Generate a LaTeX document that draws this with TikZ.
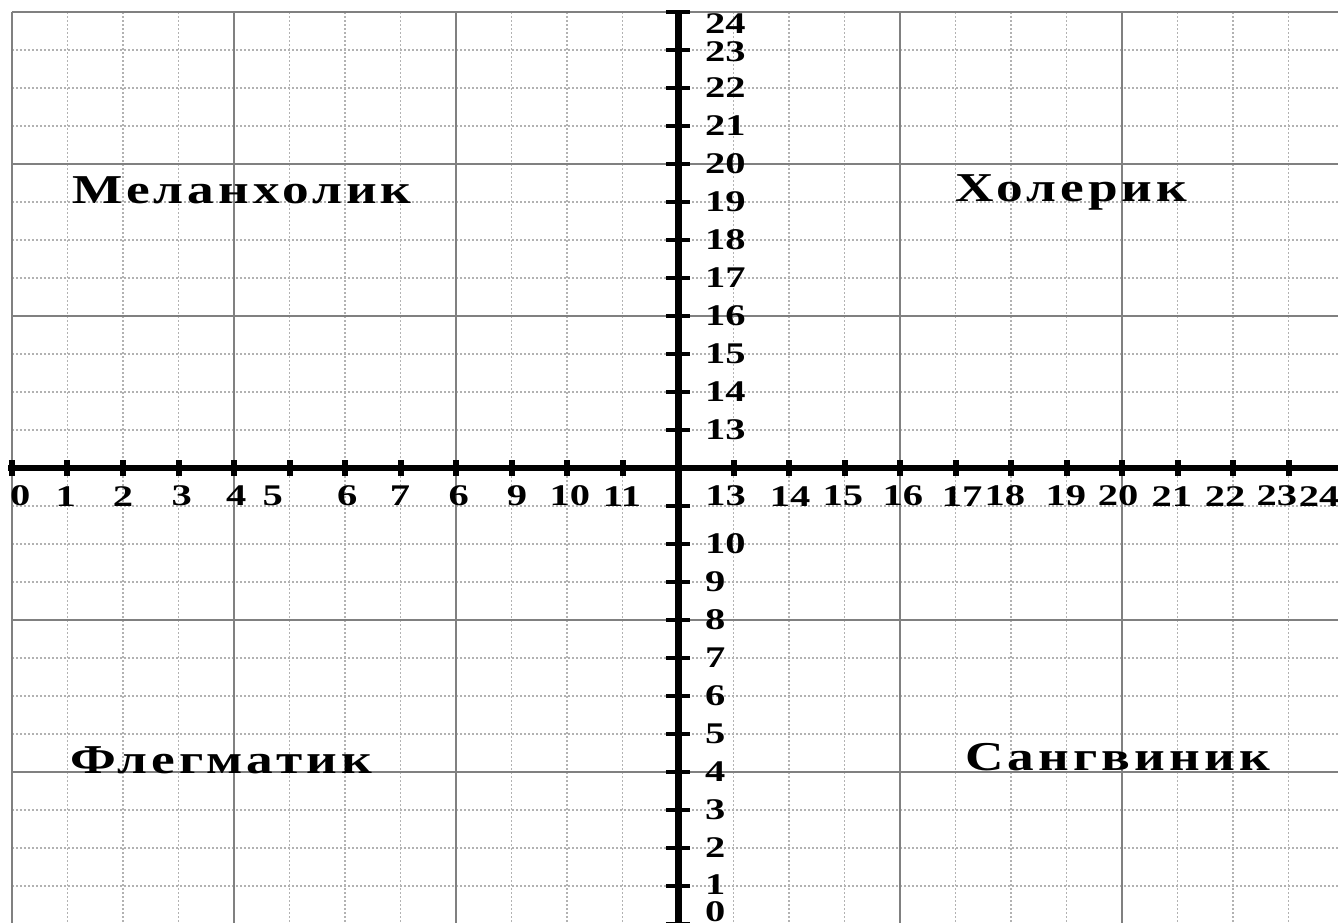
\documentclass[tikz,border=0pt]{standalone}
\usepackage{fontspec}
\usepackage{tikz}
\newfontfamily\numfont{Liberation Serif}[FakeStretch=1.35]
\newfontfamily\typefont{Liberation Serif}[FakeStretch=1.3,LetterSpace=10]
\tikzset{
minor/.style={gray!60,line width=0.7pt,dash pattern=on 1pt off 1pt},
major/.style={gray,line width=1pt},
numlab/.style={inner sep=0pt,font=\numfont\bfseries\fontsize{15}{15}\selectfont},
typelab/.style={inner sep=0pt,anchor=base west,font=\typefont\bfseries\fontsize{20.5}{20.5}\selectfont}
}

\begin{document}
\begin{tikzpicture}[x=27.75pt,y=19pt]
\useasboundingbox(-0.2162,0.0526)rectangle(23.892,24.316);
\clip(-0.2162,0.0526)rectangle(23.892,24.316);
\foreach \i in {0,...,24} \draw[minor](\i,-1)--(\i,24);
\foreach \j in {0,...,24} \draw[minor](0,\j)--(25,\j);
\foreach \i in {0,4,...,24} \draw[major](\i,-1)--(\i,24);
\foreach \j in {0,4,...,24} \draw[major](0,\j)--(25,\j);
\coordinate(xl)at(-0.07,12);
\coordinate(xr)at(25,12);
\coordinate(yt)at(12,24);
\coordinate(yb)at(12,-1);
\draw[line width=3pt](xl)--(xr);
\draw[line width=3.5pt](yt)--(yb);
\foreach \i in {0,...,11,13,14,...,24} \draw[line width=3pt](\i,11.79)--(\i,12.21);
\foreach \j in {0,...,11,13,14,...,24} \draw[line width=1.8pt](11.78,\j)--(12.22,\j);
\foreach \n/\t/\x in {0/0/0.15,1/1/0.97,2/2/2.0,3/3/3.06,4/4/4.04,5/5/4.7,6/6/6.04,7/7/6.99,8/6/8.05,9/9/9.1,10/10/10.05,11/11/10.99,13/13/12.86,14/14/14.02,15/15/14.97,16/16/16.05,17/17/17.12,18/18/17.89,19/19/18.99,20/20/19.93,21/21/20.9,22/22/21.86,23/23/22.79,24/24/23.55}
  \node[numlab](x\n)at(\x,11.26){\t};
\foreach \j in {2,...,10,13,14,...,22} \node[numlab,anchor=west](y\j)at(12.48,\j){\j};
\node[numlab,anchor=west](y1)at(12.48,1.05){1};
\node[numlab,anchor=west](y23)at(12.48,22.95){23};
\node[numlab,anchor=west](y24)at(12.48,23.7){24};
\node[numlab,anchor=west](y0)at(12.48,0.33){0};
\node[typelab](mel)at(1.08,18.97){Меланхолик};
\node[typelab](hol)at(16.99,19){Холерик};
\node[typelab](fleg)at(1.04,3.97){Флегматик};
\node[typelab](sang)at(17.17,4.03){Сангвиник};
\end{tikzpicture}
\end{document}
